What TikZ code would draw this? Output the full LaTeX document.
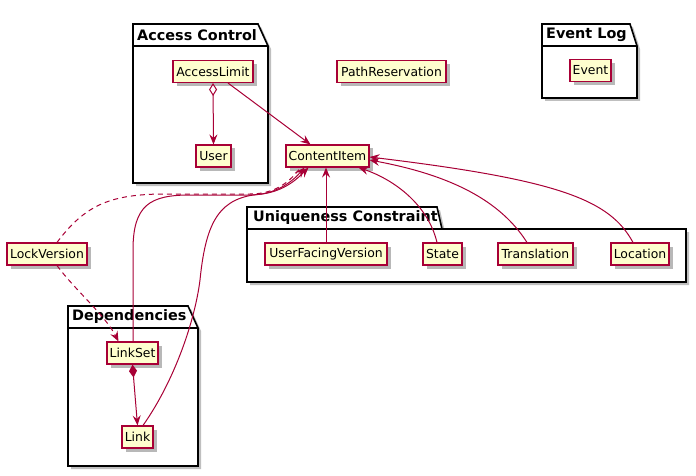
\documentclass[tikz,border=0pt]{standalone}
\usepackage{fontspec}
\setmainfont{DejaVu Sans}
\usetikzlibrary{arrows.meta,calc,shadows}
\definecolor{umlred}{HTML}{A80036}
\definecolor{umlfill}{HTML}{FEFECE}
\tikzset{
  cls/.style={rectangle, draw=umlred, fill=umlfill, line width=1.1pt, minimum height=22pt, inner sep=0pt,
    font=\fontsize{12.4}{14}\selectfont,
    drop shadow={shadow xshift=3.5pt, shadow yshift=-3.5pt, fill=black, opacity=0.28}},
  pkg/.style={draw=black, line width=1.6pt, line join=miter},
  pkgshadow/.style={fill=black, opacity=0.25},
  pkgtitle/.style={anchor=west, inner sep=0pt, font=\bfseries\fontsize{14.4}{16}\selectfont},
  rel/.style={draw=umlred, line width=1pt},
  tip/.style={-{Stealth[length=10pt,width=8pt,inset=3.5pt]}},
  dashrel/.style={rel, dash pattern=on 5pt off 4pt},
}
\begin{document}
\begin{tikzpicture}[x=1pt,y=-1pt]
\useasboundingbox (0,0) rectangle (696,476);

% ---- packages ----
% Access Control
\fill[pkgshadow,shift={(3,3)}] (133,24) -- (258,24) -- (268,46) -- (268,183) -- (133,183) -- cycle;
\filldraw[pkg,fill=white] (133,24) -- (258,24) -- (268,46) -- (268,183) -- (133,183) -- cycle;
\draw[pkg] (133,46) -- (268,46);
\node[pkgtitle] (tAccess) at (137,35) {Access Control};
% Event Log
\fill[pkgshadow,shift={(3,3)}] (542,24) -- (630,24) -- (637,46) -- (637,98) -- (542,98) -- cycle;
\filldraw[pkg,fill=white] (542,24) -- (630,24) -- (637,46) -- (637,98) -- (542,98) -- cycle;
\draw[pkg] (542,46) -- (637,46);
\node[pkgtitle] (tEvent) at (546,35) {Event Log};
% Uniqueness Constraint
\fill[pkgshadow,shift={(3,3)}] (247,207) -- (437,207) -- (442,229) -- (686,229) -- (686,282) -- (247,282) -- cycle;
\filldraw[pkg,fill=white] (247,207) -- (437,207) -- (442,229) -- (686,229) -- (686,282) -- (247,282) -- cycle;
\draw[pkg] (247,229) -- (442,229);
\node[pkgtitle] (tUnique) at (253,218) {Uniqueness Constraint};
% Dependencies
\fill[pkgshadow,shift={(3,3)}] (68,306) -- (188,306) -- (198,328) -- (198,466) -- (68,466) -- cycle;
\filldraw[pkg,fill=white] (68,306) -- (188,306) -- (198,328) -- (198,466) -- (68,466) -- cycle;
\draw[pkg] (68,328) -- (198,328);
\node[pkgtitle] (tDeps) at (72,317) {Dependencies};

% ---- class nodes ----
\node[cls, minimum width=80pt]  (AccessLimit) at (213,71.5) {AccessLimit};
\node[cls, minimum width=35pt]  (User) at (213.5,156) {User};
\node[cls, minimum width=109pt] (PathReservation) at (391.5,71.5) {PathReservation};
\node[cls, minimum width=83pt]  (ContentItem) at (327.5,156) {ContentItem};
\node[cls, minimum width=41pt]  (Event) at (590.5,70.5) {Event};
\node[cls, minimum width=80pt]  (LockVersion) at (47,254) {LockVersion};
\node[cls, minimum width=122pt] (UserFacingVersion) at (326,254) {UserFacingVersion};
\node[cls, minimum width=39pt]  (State) at (442.5,254) {State};
\node[cls, minimum width=75pt]  (Translation) at (535.5,254) {Translation};
\node[cls, minimum width=58pt]  (Location) at (640,254) {Location};
\node[cls, minimum width=51pt]  (LinkSet) at (132.5,353) {LinkSet};
\node[cls, minimum width=31pt]  (Link) at (137.5,437) {Link};

% ---- relations ----
\draw[rel, {Diamond[open,length=13pt,width=8pt]}-{Stealth[length=10pt,width=8pt,inset=3.5pt]}]
  (AccessLimit.south) -- (User.north);
\draw[rel,tip] ($(AccessLimit.south)+(15,0)$) -- ($(ContentItem.north)+(-17,0)$);
\draw[dashrel] ($(LockVersion.north)+(10,0)$) .. controls (85,205) and (110,195) .. (160,194)
  -- (250,194) .. controls (275,194) and (290,182) .. ($(ContentItem.south)+(-27,0)$);
\draw[dashrel,tip] ($(LockVersion.south)+(10,0)$) .. controls (75,290) and (105,315) .. ($(LinkSet.north)+(-14,0)$);
\draw[rel,tip] ($(LinkSet.north)+(0.5,0)$) -- (133,250) .. controls (133,205) and (150,195) .. (190,195)
  -- (250,195) .. controls (275,195) and (292,182) .. ($(ContentItem.south)+(-23,0)$);
\draw[rel,tip] ($(Link.north)+(5.5,0)$) .. controls (175,380) and (195,320) .. (200,280)
  .. controls (206,220) and (220,197) .. (262,194) .. controls (285,191) and (298,178) .. ($(ContentItem.south)+(-19,0)$);
\draw[rel, {Diamond[length=13pt,width=8pt]}-{Stealth[length=10pt,width=8pt,inset=3.5pt]}]
  (LinkSet.south) -- (Link.north);
\draw[rel,tip] (UserFacingVersion.north) -- (UserFacingVersion.north |- ContentItem.south);
\draw[rel,tip] ($(State.north)+(-5.5,0)$) .. controls (428,205) and (395,180) .. ($(ContentItem.south east)+(-11,0)$);
\draw[rel,tip] ($(Translation.north)+(-8.5,0)$) .. controls (500,200) and (450,175) .. ($(ContentItem.east)+(0,4)$);
\draw[rel,tip] ($(Location.north)+(-7,0)$) .. controls (610,200) and (560,180) .. ($(ContentItem.east)+(0,1)$);
\end{tikzpicture}
\end{document}
